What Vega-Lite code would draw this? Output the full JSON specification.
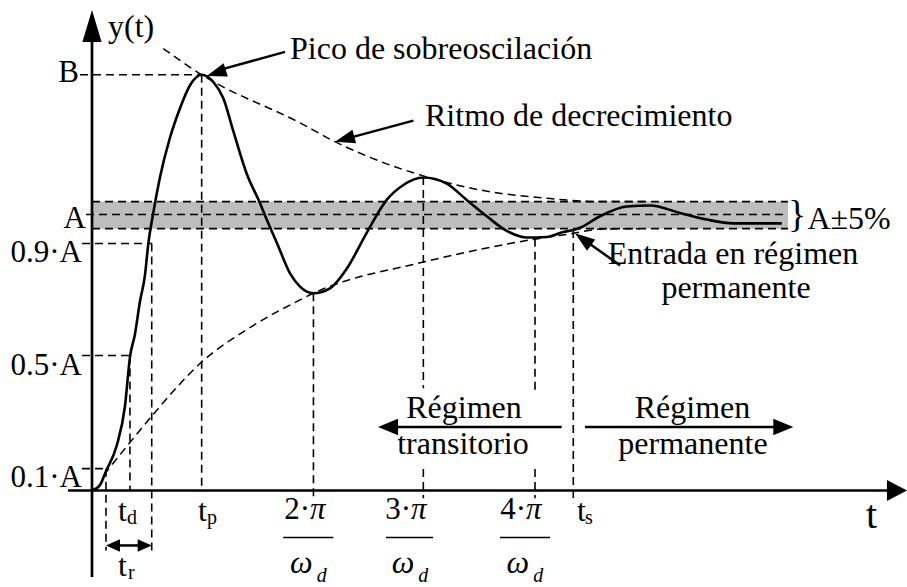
{
  "$schema": "https://vega.github.io/schema/vega-lite/v6.json",
  "width": 907,
  "height": 587,
  "padding": 0,
  "autosize": {"type": "fit", "contains": "padding"},
  "background": "white",
  "config": {"view": {"stroke": null}, "text": {"font": "Liberation Serif", "color": "black"}},
  "datasets": {
    "curve": [
      {"x":0,"y":0},{"x":0.072,"y":0.020},{"x":0.126,"y":0.070},{"x":0.223,"y":0.163},{"x":0.297,"y":0.305},{"x":0.342,"y":0.483},{"x":0.387,"y":0.566},{"x":0.432,"y":0.684},{"x":0.477,"y":0.779},{"x":0.507,"y":0.892},{"x":0.552,"y":1.005},{"x":0.613,"y":1.135},{"x":0.703,"y":1.278},{"x":0.793,"y":1.384},{"x":0.883,"y":1.467},{"x":0.988,"y":1.505},{"x":1.093,"y":1.479},{"x":1.183,"y":1.420},{"x":1.273,"y":1.301},{"x":1.394,"y":1.147},{"x":1.514,"y":1.040},{"x":1.574,"y":0.981},{"x":1.664,"y":0.898},{"x":1.784,"y":0.786},{"x":1.874,"y":0.738},{"x":1.995,"y":0.714},{"x":2.144,"y":0.732},{"x":2.295,"y":0.803},{"x":2.475,"y":0.933},{"x":2.655,"y":1.052},{"x":2.805,"y":1.106},{"x":2.985,"y":1.133},{"x":3.195,"y":1.111},{"x":3.376,"y":1.052},{"x":3.556,"y":0.993},{"x":3.736,"y":0.940},{"x":3.916,"y":0.916},{"x":4.096,"y":0.918},{"x":4.246,"y":0.936},{"x":4.336,"y":0.943},{"x":4.396,"y":0.951},{"x":4.577,"y":0.993},{"x":4.817,"y":1.028},{"x":5.027,"y":1.032},{"x":5.297,"y":1.005},{"x":5.538,"y":0.981},{"x":5.777,"y":0.967},{"x":6.214,"y":0.967}
    ],
    "upper": [
      {"x":0.642,"y":1.600},{"x":0.988,"y":1.505},{"x":1.874,"y":1.331},{"x":2.189,"y":1.263},{"x":2.505,"y":1.206},{"x":2.985,"y":1.139},{"x":3.495,"y":1.088},{"x":4.096,"y":1.058},{"x":4.577,"y":1.046},{"x":5.027,"y":1.046}
    ],
    "lower": [
      {"x":0.108,"y":0.057},{"x":0.342,"y":0.174},{"x":0.538,"y":0.269},{"x":0.988,"y":0.465},{"x":1.423,"y":0.590},{"x":1.874,"y":0.690},{"x":1.995,"y":0.714},{"x":2.985,"y":0.827},{"x":3.991,"y":0.910},{"x":4.336,"y":0.931},{"x":4.577,"y":0.946},{"x":4.937,"y":0.948}
    ],
    "guides": [
      {"x":-0.108,"x2":0.988,"y":1.505,"y2":1.505},
      {"x":0,"x2":6.270,"y":1.046,"y2":1.046},
      {"x":-0.054,"x2":6.270,"y":0.999,"y2":0.999},
      {"x":0,"x2":6.270,"y":0.948,"y2":0.948},
      {"x":-0.090,"x2":0.538,"y":0.894,"y2":0.894},
      {"x":-0.090,"x2":0.342,"y":0.489,"y2":0.489},
      {"x":-0.090,"x2":0.126,"y":0.079,"y2":0.079},
      {"x":0.126,"x2":0.126,"y":0.079,"y2":-0.217},
      {"x":0.342,"x2":0.342,"y":0.489,"y2":0},
      {"x":0.538,"x2":0.538,"y":0.894,"y2":-0.217},
      {"x":0.988,"x2":0.988,"y":1.505,"y2":0},
      {"x":1.995,"x2":1.995,"y":0.714,"y2":-0.028},
      {"x":2.985,"x2":2.985,"y":1.135,"y2":0.370},
      {"x":2.985,"x2":2.985,"y":0.078,"y2":-0.028},
      {"x":3.991,"x2":3.991,"y":0.911,"y2":0.364},
      {"x":3.991,"x2":3.991,"y":0.078,"y2":-0.028},
      {"x":4.336,"x2":4.336,"y":0.943,"y2":-0.046}
    ]
  },
  "encoding": {
    "x": {"field": "x", "type": "quantitative", "scale": {"domain": [-0.8288, 7.3423], "nice": false, "zero": false}, "axis": null},
    "y": {"field": "y", "type": "quantitative", "scale": {"domain": [-0.3132, 1.7758], "nice": false, "zero": false}, "axis": null}
  },
  "layer": [
    {
      "data": {"values": [{"x":0,"x2":6.270,"y":0.948,"y2":1.046}]},
      "mark": {"type": "rect", "fill": "#bdbdbd", "stroke": null},
      "encoding": {"x2": {"field": "x2"}, "y2": {"field": "y2"}}
    },
    {
      "data": {"name": "guides"},
      "mark": {"type": "rule", "color": "black", "strokeWidth": 1.6, "strokeDash": [8, 5]},
      "encoding": {"x2": {"field": "x2"}, "y2": {"field": "y2"}}
    },
    {
      "data": {"name": "upper"},
      "mark": {"type": "line", "color": "black", "strokeWidth": 1.5, "strokeDash": [8, 5], "interpolate": "monotone"},
      "encoding": {}
    },
    {
      "data": {"name": "lower"},
      "mark": {"type": "line", "color": "black", "strokeWidth": 1.5, "strokeDash": [8, 5], "interpolate": "monotone"},
      "encoding": {}
    },
    {
      "data": {"name": "curve"},
      "mark": {"type": "line", "color": "black", "strokeWidth": 2.6, "interpolate": "monotone"},
      "encoding": {}
    },
    {
      "data": {"values": [
        {"x":0,"x2":0,"y":-0.3132,"y2":1.633},
        {"x":-0.216,"x2":7.162,"y":0,"y2":0}
      ]},
      "mark": {"type": "rule", "color": "black", "strokeWidth": 2.7},
      "encoding": {"x2": {"field": "x2"}, "y2": {"field": "y2"}}
    },
    {
      "data": {"values": [
        {"x":1.739,"x2":1.136,"y":1.588,"y2":1.521},
        {"x":2.895,"x2":2.294,"y":1.339,"y2":1.274},
        {"x":4.757,"x2":4.439,"y":0.815,"y2":0.906},
        {"x":4.231,"x2":2.712,"y":0.230,"y2":0.230},
        {"x":4.441,"x2":6.183,"y":0.230,"y2":0.230},
        {"x":0.200,"x2":0.470,"y":-0.199,"y2":-0.199}
      ]},
      "mark": {"type": "rule", "color": "black", "strokeWidth": 2.5},
      "encoding": {"x2": {"field": "x2"}, "y2": {"field": "y2"}}
    },
    {
      "data": {"values": [
        {"x":1.723,"x2":2.174,"y":-0.170,"y2":-0.170},
        {"x":2.649,"x2":3.072,"y":-0.170,"y2":-0.170},
        {"x":3.676,"x2":4.126,"y":-0.170,"y2":-0.170}
      ]},
      "mark": {"type": "rule", "color": "black", "strokeWidth": 1.5},
      "encoding": {"x2": {"field": "x2"}, "y2": {"field": "y2"}}
    },
    {
      "data": {"values": [{"x":0,"y":1.740}]},
      "mark": {"type": "point", "shape": "M0,0L-2,-0.6L-2,0.6Z", "size": 1024, "angle": -90, "filled": true, "color": "black", "opacity": 1},
      "encoding": {}
    },
    {
      "data": {"values": [{"x":7.342,"y":0}]},
      "mark": {"type": "point", "shape": "M0,0L-2,-1.05L-2,1.05Z", "size": 400, "angle": 0, "filled": true, "color": "black", "opacity": 1},
      "encoding": {}
    },
    {
      "data": {"values": [{"x":1.033,"y":1.501}]},
      "mark": {"type": "point", "shape": "M0,0L-2,-0.7L-2,0.7Z", "size": 400, "angle": 162.6, "filled": true, "color": "black", "opacity": 1},
      "encoding": {}
    },
    {
      "data": {"values": [{"x":2.189,"y":1.263}]},
      "mark": {"type": "point", "shape": "M0,0L-2,-0.7L-2,0.7Z", "size": 400, "angle": 164.8, "filled": true, "color": "black", "opacity": 1},
      "encoding": {}
    },
    {
      "data": {"values": [{"x":4.351,"y":0.931}]},
      "mark": {"type": "point", "shape": "M0,0L-2,-0.7L-2,0.7Z", "size": 400, "angle": 216, "filled": true, "color": "black", "opacity": 1},
      "encoding": {}
    },
    {
      "data": {"values": [{"x":6.318,"y":0.230}]},
      "mark": {"type": "point", "shape": "M0,0L-2,-0.83L-2,0.83Z", "size": 400, "angle": 0, "filled": true, "color": "black", "opacity": 1},
      "encoding": {}
    },
    {
      "data": {"values": [{"x":2.577,"y":0.230}]},
      "mark": {"type": "point", "shape": "M0,0L-2,-0.83L-2,0.83Z", "size": 400, "angle": 180, "filled": true, "color": "black", "opacity": 1},
      "encoding": {}
    },
    {
      "data": {"values": [{"x":0.538,"y":-0.199}]},
      "mark": {"type": "point", "shape": "M0,0L-2,-0.9L-2,0.9Z", "size": 196, "angle": 0, "filled": true, "color": "black", "opacity": 1},
      "encoding": {}
    },
    {
      "data": {"values": [{"x":0.126,"y":-0.199}]},
      "mark": {"type": "point", "shape": "M0,0L-2,-0.9L-2,0.9Z", "size": 196, "angle": 180, "filled": true, "color": "black", "opacity": 1},
      "encoding": {}
    },
    {
      "data": {"values": [
        {"label":"B","x":-0.117,"y":1.479},
        {"label":"A","x":-0.054,"y":0.950},
        {"label":"0.9·A","x":-0.090,"y":0.826},
        {"label":"0.5·A","x":-0.090,"y":0.417},
        {"label":"0.1·A","x":-0.090,"y":0.011}
      ]},
      "mark": {"type": "text", "align": "right", "baseline": "alphabetic", "fontSize": 31},
      "encoding": {"text": {"field": "label"}}
    },
    {
      "data": {"values": [
        {"label":"y(t)","x":0.144,"y":1.642},
        {"label":"Pico de sobreoscilación","x":1.784,"y":1.562},
        {"label":"Ritmo de decrecimiento","x":3.000,"y":1.319},
        {"label":"A±5%","x":6.445,"y":0.946},
        {"label":"t","x":0.234,"y":-0.110},
        {"label":"t","x":0.955,"y":-0.110},
        {"label":"t","x":4.369,"y":-0.110},
        {"label":"t","x":0.234,"y":-0.310}
      ]},
      "mark": {"type": "text", "align": "left", "baseline": "alphabetic", "fontSize": 32},
      "encoding": {"text": {"field": "label"}}
    },
    {
      "data": {"values": [
        {"label":"Entrada en régimen","x":5.775,"y":0.821},
        {"label":"permanente","x":5.802,"y":0.696},
        {"label":"Régimen","x":3.351,"y":0.263},
        {"label":"transitorio","x":3.342,"y":0.133},
        {"label":"Régimen","x":5.410,"y":0.263},
        {"label":"permanente","x":5.414,"y":0.133}
      ]},
      "mark": {"type": "text", "align": "center", "baseline": "alphabetic", "fontSize": 32},
      "encoding": {"text": {"field": "label"}}
    },
    {
      "data": {"values": [
        {"label":"2·","x":1.964,"y":-0.103},
        {"label":"3·","x":2.874,"y":-0.103},
        {"label":"4·","x":3.910,"y":-0.103}
      ]},
      "mark": {"type": "text", "align": "right", "baseline": "alphabetic", "fontSize": 31},
      "encoding": {"text": {"field": "label"}}
    },
    {
      "data": {"values": [
        {"label":"π","x":1.964,"y":-0.103},
        {"label":"π","x":2.874,"y":-0.103},
        {"label":"π","x":3.910,"y":-0.103}
      ]},
      "mark": {"type": "text", "align": "left", "baseline": "alphabetic", "fontSize": 31, "fontStyle": "italic"},
      "encoding": {"text": {"field": "label"}}
    },
    {
      "data": {"values": [
        {"label":"d","x":0.315,"y":-0.121},
        {"label":"p","x":1.036,"y":-0.121},
        {"label":"s","x":4.441,"y":-0.121},
        {"label":"r","x":0.324,"y":-0.320}
      ]},
      "mark": {"type": "text", "align": "left", "baseline": "alphabetic", "fontSize": 20},
      "encoding": {"text": {"field": "label"}}
    },
    {
      "data": {"values": [
        {"label":"ω","x":1.784,"y":-0.299},
        {"label":"ω","x":2.700,"y":-0.299},
        {"label":"ω","x":3.735,"y":-0.299}
      ]},
      "mark": {"type": "text", "align": "left", "baseline": "alphabetic", "fontSize": 32, "fontStyle": "italic"},
      "encoding": {"text": {"field": "label"}}
    },
    {
      "data": {"values": [
        {"label":"d","x":2.024,"y":-0.331},
        {"label":"d","x":2.940,"y":-0.331},
        {"label":"d","x":3.976,"y":-0.331}
      ]},
      "mark": {"type": "text", "align": "left", "baseline": "alphabetic", "fontSize": 20, "fontStyle": "italic"},
      "encoding": {"text": {"field": "label"}}
    },
    {
      "data": {"values": [{"label":"t","x":6.973,"y":-0.134}]},
      "mark": {"type": "text", "align": "left", "baseline": "alphabetic", "fontSize": 40},
      "encoding": {"text": {"field": "label"}}
    },
    {
      "data": {"values": [{"label":"}","x":6.270,"y":0.954}]},
      "mark": {"type": "text", "align": "left", "baseline": "alphabetic", "fontSize": 38},
      "encoding": {"text": {"field": "label"}}
    }
  ]
}
